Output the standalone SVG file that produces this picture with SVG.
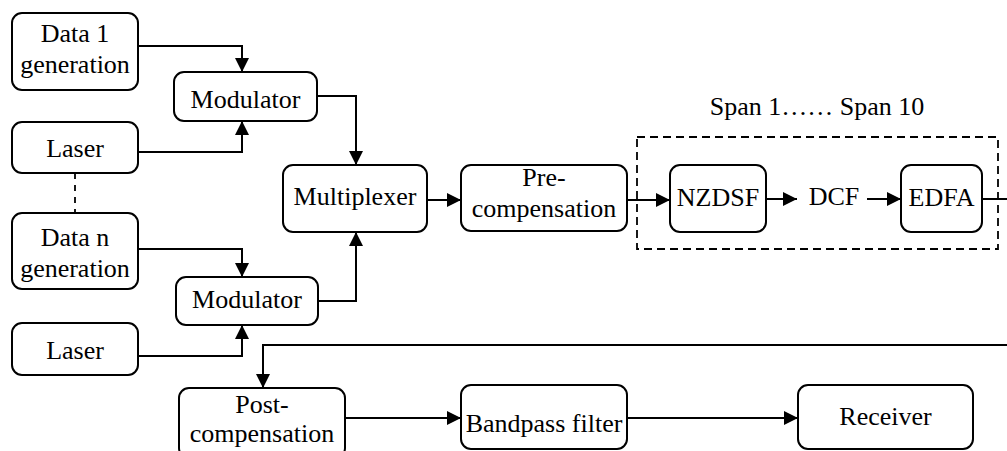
<svg xmlns="http://www.w3.org/2000/svg" width="1007" height="451" viewBox="0 0 1007 451">
<defs>
<style>
.box{fill:#fff;stroke:#000;stroke-width:2}
text{font-family:"Liberation Serif",Tinos,"Times New Roman",Times,"Nimbus Roman","Noto Serif","DejaVu Serif",serif;font-size:26px;fill:#000;text-anchor:middle}
.c{fill:none;stroke:#000;stroke-width:2}
.d{fill:none;stroke:#000;stroke-width:1.8;stroke-dasharray:8,5}
</style>
<marker id="ah" markerUnits="userSpaceOnUse" markerWidth="14" markerHeight="14" refX="14" refY="7" orient="auto">
<path d="M0,0 L14,7 L0,14 Z" fill="#000"/>
</marker>
</defs>
<rect width="1007" height="451" fill="#fff"/>
<g id="connectors">
<path class="c" d="M138,46 H242 V72" marker-end="url(#ah)"/>
<path class="c" d="M138,152 H242 V121" marker-end="url(#ah)"/>
<path class="c" d="M138,249 H242 V277" marker-end="url(#ah)"/>
<path class="c" d="M138,356 H242 V325" marker-end="url(#ah)"/>
<path class="c" d="M317,96 H356 V165" marker-end="url(#ah)"/>
<path class="c" d="M318,301 H356 V232" marker-end="url(#ah)"/>
<path class="c" d="M427,200 H461" marker-end="url(#ah)"/>
<path class="c" d="M627,200 H670" marker-end="url(#ah)"/>
<path class="c" d="M766,199 H797" marker-end="url(#ah)"/>
<path class="c" d="M867,199 H901" marker-end="url(#ah)"/>
<path class="c" d="M982,199 H1007"/>
<path class="c" d="M1007,345 H263 V388" marker-end="url(#ah)"/>
<path class="c" d="M345,418 H461" marker-end="url(#ah)"/>
<path class="c" d="M627,418 H798" marker-end="url(#ah)"/>
<path fill="none" stroke="#000" stroke-width="1.8" stroke-dasharray="6,6" d="M75,173 V213"/>
</g>
<g id="span">
<rect class="d" x="637" y="137" width="361" height="112"/>
<text x="817" y="115">Span 1…… Span 10</text>
</g>
<g id="data1"><rect class="box" x="12" y="13" width="126" height="77" rx="10"/><text x="75" y="42">Data 1</text><text x="75" y="73">generation</text></g>
<g id="laser1"><rect class="box" x="12" y="122" width="126" height="51" rx="10"/><text x="75" y="157">Laser</text></g>
<g id="mod1"><rect class="box" x="174" y="72" width="143" height="49" rx="10"/><text x="245.5" y="108">Modulator</text></g>
<g id="datan"><rect class="box" x="12" y="213" width="126" height="76" rx="10"/><text x="75" y="246">Data n</text><text x="75" y="277">generation</text></g>
<g id="mod2"><rect class="box" x="176" y="277" width="142" height="48" rx="10"/><text x="247" y="308">Modulator</text></g>
<g id="laser2"><rect class="box" x="12" y="323" width="126" height="52" rx="10"/><text x="75" y="359">Laser</text></g>
<g id="mux"><rect class="box" x="283" y="165" width="144" height="67" rx="10"/><text x="355" y="205">Multiplexer</text></g>
<g id="precomp"><rect class="box" x="461" y="165" width="166" height="66" rx="10"/><text x="544" y="186">Pre-</text><text x="544" y="217">compensation</text></g>
<g id="nzdsf"><rect class="box" x="670" y="165" width="96" height="67" rx="10"/><text x="718" y="206">NZDSF</text></g>
<g id="dcf"><text x="834" y="205">DCF</text></g>
<g id="edfa"><rect class="box" x="901" y="165" width="81" height="67" rx="10"/><text x="941.5" y="206">EDFA</text></g>
<g id="postcomp"><rect class="box" x="179" y="388" width="166" height="70" rx="10"/><text x="262" y="413">Post-</text><text x="262" y="442">compensation</text></g>
<g id="bandpass"><rect class="box" x="461" y="385" width="166" height="64" rx="10"/><text x="544" y="432">Bandpass filter</text></g>
<g id="receiver"><rect class="box" x="798" y="385" width="175" height="64" rx="10"/><text x="885.5" y="425">Receiver</text></g>
</svg>
